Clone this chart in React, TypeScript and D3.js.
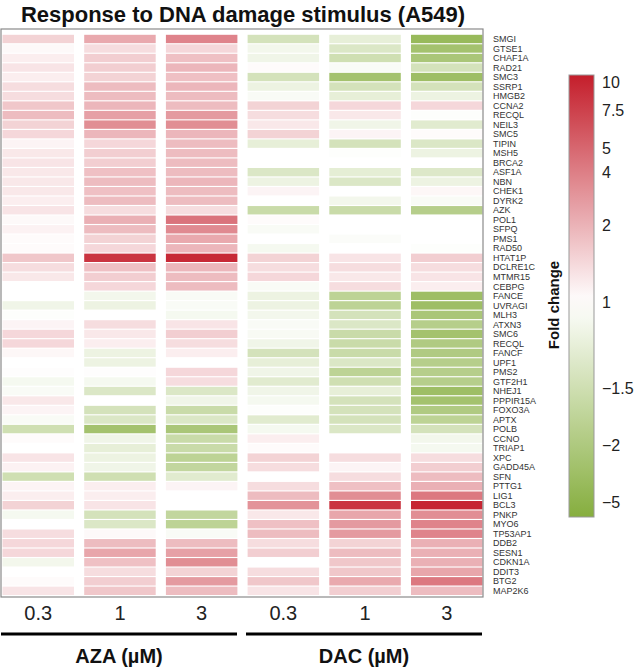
import React from "react";
import * as d3 from "d3";

const genes = [
  "SMGI","GTSE1","CHAF1A","RAD21","SMC3","SSRP1","HMGB2","CCNA2","RECQL","NEIL3",
  "SMC5","TIPIN","MSH5","BRCA2","ASF1A","NBN","CHEK1","DYRK2","AZK","POL1",
  "SFPQ","PMS1","RAD50","HTAT1P","DCLRE1C","MTMR15","CEBPG","FANCE","UVRAGI","MLH3",
  "ATXN3","SMC6","RECQL","FANCF","UPF1","PMS2","GTF2H1","NHEJ1","PPPIR15A","FOXO3A",
  "APTX","POLB","CCNO","TRIAP1","XPC","GADD45A","SFN","PTTG1","LIG1","BCL3",
  "PNKP","MYO6","TP53AP1","DDB2","SESN1","CDKN1A","DDIT3","BTG2","MAP2K6",
];

const doseLabels = ["0.3", "1", "3", "0.3", "1", "3"];
const groupLabels = ["AZA (\u00B5M)", "DAC (\u00B5M)"];

// Fold change per gene (signed: negative = down-regulation)
const aza03 = [1.58,1.08,1.22,1.35,1.22,1.44,1.44,1.74,1.88,1.58,1.52,1.14,1.3,1.35,1.3,1.3,1.3,1.22,1.35,1.08,1.17,1.05,1.05,1.74,1.44,1.3,1,1,-1.15,-1.02,1.14,1.52,1.52,1.11,1,1.03,-1.1,-1.06,1.3,1.14,-1.06,-1.5,1.05,1,1.35,1.17,-1.5,1.14,1.22,1.58,-1.1,1,1.44,1.52,1.52,-1.12,1,1.05,1.35];
const aza1 = [2.35,1.44,1.64,1.64,1.58,1.88,1.88,1.95,2.7,3.4,1.95,1.52,1.64,1.64,1.82,1.88,1.82,1.88,1.44,2.1,1.88,1.58,1.52,8.6,1.82,1.64,1.52,-1.12,-1.19,1,1.44,1.3,1.22,-1.19,-1.19,1.03,-1.1,-1.37,1,-1.44,-1.37,-2.95,-1.15,-1.25,-1.19,-1.15,-1.5,1.22,1.22,1.35,-1.44,-1.37,1.08,1.88,2.5,1.82,1.44,1.64,1.74];
const aza3 = [3.8,1.52,1.82,1.95,1.82,1.95,1.88,1.88,2.95,3.4,1.95,1.88,1.88,1.88,1.88,1.95,1.88,1.88,1.44,4.45,3.55,2.35,1.95,9.6,1.95,1.88,1.88,-1.06,-1.06,-1.1,1.35,1.64,1.44,1.22,1,1.52,1.44,-1.37,-1.15,-1.59,-1.37,-2.4,-1.59,-1.59,-1.78,-1.69,-1.31,1.14,1,1,-1.69,-1.78,-1.06,1.88,2.7,3.4,1.58,2.95,1.88];
const dac03 = [-1.44,-1.12,-1.15,1.05,-1.44,-1.19,-1.06,1.58,1.44,1.3,1.58,-1.25,1,1,-1.37,-1.19,1.14,1,-1.59,1.05,-1.06,1,-1.1,1.58,1.44,1.52,-1.06,-1.19,-1.19,-1.12,-1.06,-1.07,-1.15,-1.44,-1.25,-1.15,-1.31,-1.15,-1.1,-1.02,-1.31,-1.1,1.22,1.05,1.58,1.44,1,1.44,1.88,3.2,1.3,1.82,1.88,1.44,1.64,1,1.44,1.74,1.35];
const dac1 = [-1.25,-1.37,-1.5,-1.06,-2.95,-1.44,-1.25,1.52,1.3,-1.15,1.14,-1.44,-1.02,1,-1.27,-1.37,1,-1.12,-1.59,1,1,-1.04,1,1.35,1.44,1.3,1.44,-1.78,-1.78,-1.44,-1.37,-1.59,-1.59,-1.59,-1.37,-1.78,-1.5,-1.25,-1.44,-1.44,-1.44,-1.37,1,1,1.44,1.14,1.44,1.82,3.4,8.6,2.5,2.95,2.95,1.58,1.88,1.74,1.74,2.35,1.64];
const dac3 = [-4.1,-2.95,-2.4,-1.44,-3.5,-1.44,-1.19,1.52,-1.02,-1.31,1.05,-1.37,-1.19,1,-1.35,-1.19,1.11,-1.06,-1.88,1,1,1,-1.02,1.64,1.44,1.35,1.22,-3.5,-3.5,-2.4,-1.88,-2.95,-1.97,-1.97,-1.88,-1.88,-1.88,-3.5,-2.95,-1.97,-1.78,-1.44,-1.12,-1.1,1.44,1.64,1.88,2.1,4.25,10,3.4,3.8,3.8,2.1,2.1,2.1,2.5,4.25,1.88];

const colorbarTicks = [10, 7.5, 5, 4, 2, 1, -1.5, -2, -5];
const colorbarTickText = ["10", "7.5", "5", "4", "2", "1", "\u22121.5", "\u22122", "\u22125"];

const series = [aza03, aza1, aza3, dac03, dac1, dac3];

const FONT = "'Liberation Sans', Arial, Helvetica, sans-serif";
const RED = "#c41e2b";
const GREEN = "#86ae3e";

export default function App() {
  const W = 634, H = 669;
  const frame = { x0: 1, x1: 483, y0: 29, y1: 597 };

  const xScale = d3.scaleBand<number>()
    .domain(d3.range(series.length))
    .range([2.5, 482.5])
    .paddingInner(0.125);

  const yScale = d3.scaleBand<number>()
    .domain(d3.range(genes.length))
    .range([34.8, 595])
    .paddingInner(0.12);

  // colour bar geometry
  const cb = { x: 569, y: 75, w: 25, h: 442, white: 227 };
  const valueToOffset = d3.scaleLinear()
    .domain([10, 7.5, 5, 4, 2, 1, -1, -1.5, -2, -5])
    .range([7, 35, 73, 97, 150, 227, 227, 313, 370, 427]);
  const gradColor = d3.scaleLinear<string>()
    .domain([0, cb.white, cb.h])
    .range([RED, "#ffffff", GREEN])
    .interpolate(d3.interpolateRgb)
    .clamp(true);
  const cellColor = (v: number) => gradColor(valueToOffset(v));

  const gradStops = d3.range(0, 1.0001, 0.05).map((f) => ({
    f,
    c: gradColor(f * cb.h),
  }));

  const groups = [
    { label: groupLabels[0], x0: 1, x1: 237 },
    { label: groupLabels[1], x0: 246, x1: 482 },
  ];

  return (
    <svg
      width={W}
      height={H}
      style={{ position: "absolute", left: 0, top: 0, background: "#fff" }}
      fontFamily={FONT}
    >
      <defs>
        <linearGradient id="cbgrad" x1="0" y1="0" x2="0" y2="1">
          {gradStops.map((s, i) => (
            <stop key={i} offset={`${s.f * 100}%`} stopColor={s.c} />
          ))}
        </linearGradient>
      </defs>

      <text x={243} y={22} textAnchor="middle" fontSize={22} fontWeight="bold" fill="#111">
        Response to DNA damage stimulus (A549)
      </text>

      {/* heatmap cells */}
      {series.map((vals, ci) =>
        vals.map((v, ri) => (
          <rect
            key={`${ci}-${ri}`}
            x={xScale(ci)}
            y={yScale(ri)}
            width={xScale.bandwidth()}
            height={yScale.bandwidth()}
            fill={cellColor(v)}
          />
        ))
      )}

      {/* frame */}
      <rect
        x={frame.x0}
        y={frame.y0}
        width={frame.x1 - frame.x0}
        height={frame.y1 - frame.y0}
        fill="none"
        stroke="#8a8a8a"
        strokeWidth={1.2}
      />

      {/* gene labels */}
      {genes.map((g, i) => (
        <text
          key={i}
          x={493}
          y={(yScale(i) as number) + yScale.bandwidth() / 2}
          dy="0.35em"
          fontSize={9}
          fill="#333"
        >
          {g}
        </text>
      ))}

      {/* dose labels */}
      {doseLabels.map((d, i) => (
        <text
          key={i}
          x={(xScale(i) as number) + xScale.bandwidth() / 2}
          y={620}
          textAnchor="middle"
          fontSize={20}
          fill="#222"
        >
          {d}
        </text>
      ))}

      {/* group lines & labels */}
      {groups.map((g, i) => (
        <g key={i}>
          <line x1={g.x0} x2={g.x1} y1={634} y2={634} stroke="#000" strokeWidth={3} />
          <text
            x={(g.x0 + g.x1) / 2}
            y={663}
            textAnchor="middle"
            fontSize={20}
            fontWeight="bold"
            fill="#111"
          >
            {g.label}
          </text>
        </g>
      ))}

      {/* colour bar */}
      <rect x={cb.x} y={cb.y} width={cb.w} height={cb.h} fill="url(#cbgrad)" stroke="#999" strokeWidth={1} />
      {colorbarTicks.map((t, i) => (
        <text
          key={i}
          x={602}
          y={cb.y + valueToOffset(t)}
          dy="0.35em"
          fontSize={16}
          fill="#222"
        >
          {colorbarTickText[i]}
        </text>
      ))}
      <text
        transform={`translate(554,305) rotate(-90)`}
        textAnchor="middle"
        dy="0.35em"
        fontSize={15}
        fontWeight="bold"
        fill="#111"
      >
        Fold change
      </text>
    </svg>
  );
}
